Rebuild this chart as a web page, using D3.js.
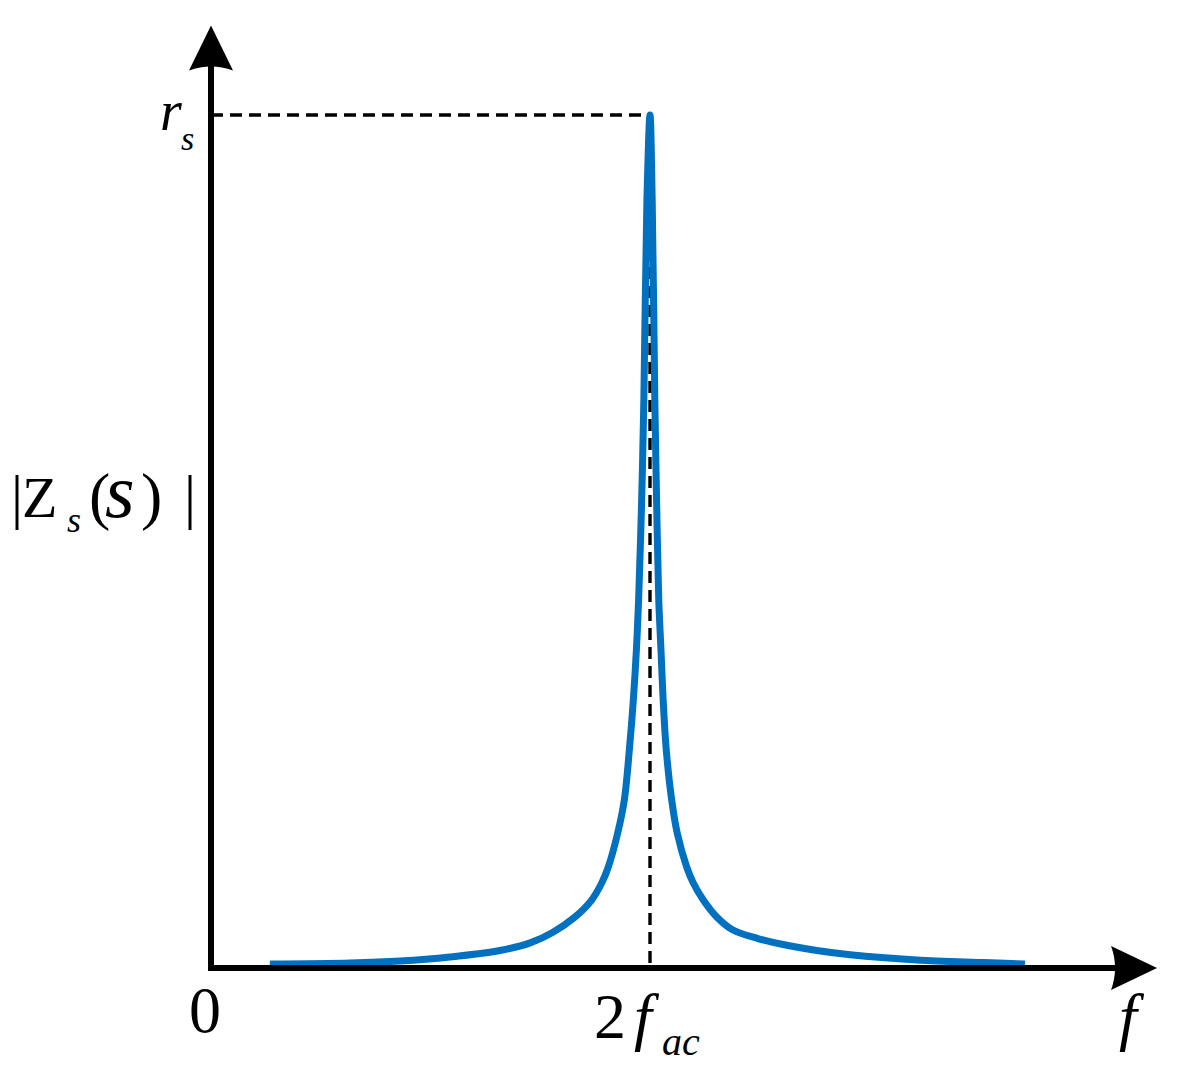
<!DOCTYPE html>
<html>
<head>
<meta charset="utf-8">
<script src="https://cdn.jsdelivr.net/npm/d3@7"></script>
<style>
  @font-face { font-family: "SerifLocal"; font-style: normal; src: local("Liberation Serif"), local("LiberationSerif"), local("Times New Roman"), local("Tinos"); }
  @font-face { font-family: "SerifLocal"; font-style: italic; src: local("Liberation Serif Italic"), local("LiberationSerif-Italic"), local("Times New Roman Italic"), local("Tinos Italic"); }
</style>
</head>
<body style="margin:0">
<svg id="svgx" width="1184" height="1074"></svg>
<script>
// frequency in units of 2f_ac, magnitude in units of r_s
const freqVals = [0.134, 0.317, 0.431, 0.544, 0.658, 0.727, 0.779, 0.829, 0.867, 0.890,
  0.905, 0.9264, 0.9415, 0.953, 0.962, 0.969, 0.974, 0.981, 0.986, 0.993, 1.0,
  1.005, 1.011, 1.015, 1.020, 1.025, 1.030, 1.037, 1.0494, 1.062, 1.0836,
  1.0986, 1.1214, 1.152, 1.189, 1.246, 1.303, 1.380, 1.456, 1.608, 1.759, 1.854];
const magVals = [0.0047, 0.0059, 0.0082, 0.0129, 0.0205, 0.0295, 0.042, 0.0598, 0.0797, 0.0996,
  0.1184, 0.1583, 0.197, 0.256, 0.314, 0.373, 0.431, 0.549, 0.666, 0.900, 1.0,
  0.900, 0.666, 0.549, 0.431, 0.373, 0.314, 0.256, 0.197, 0.1583, 0.1184,
  0.0996, 0.0797, 0.0598, 0.0445, 0.0345, 0.0275, 0.0205, 0.0155, 0.0094, 0.0064, 0.0047];

const peakF = 1.0;     // 2f_ac
const peakMag = 1.0;   // r_s
const xMaxF = 2.155;   // arrow tip of f axis
const yMaxMag = 1.105; // arrow tip of |Z| axis

var fontStack = '"SerifLocal", "Liberation Serif", "Times New Roman", Tinos, Times, "DejaVu Serif", serif';
var svg = d3.select('#svgx');

//**************************************scales
var xScale = d3.scaleLinear().domain([0, peakF]).range([211, 650]);
var yScale = d3.scaleLinear().domain([0, peakMag]).range([968, 115]);

var x0 = xScale(0), y0 = yScale(0);
var xTip = xScale(xMaxF), yTip = yScale(yMaxMag);

//**************************************dashed guides
svg.append('line')
  .attr('x1', x0).attr('y1', yScale(peakMag))
  .attr('x2', xScale(peakF)).attr('y2', yScale(peakMag))
  .attr('stroke', '#000').attr('stroke-width', 3.4)
  .attr('stroke-dasharray', '12 7');

svg.append('line')
  .attr('x1', xScale(peakF)).attr('y1', yScale(peakMag))
  .attr('x2', xScale(peakF)).attr('y2', y0)
  .attr('stroke', '#000').attr('stroke-width', 3.4)
  .attr('stroke-dasharray', '12 7');

//**************************************main curve
var pts = freqVals.map((f, i) => ({ f: f, m: magVals[i] }));

svg.append('path')
  .datum(pts)
  .attr('d', d3.line()
    .x(d => xScale(d.f))
    .y(d => yScale(d.m))
    .curve(d3.curveCatmullRom.alpha(0.5)))
  .attr('fill', 'none')
  .attr('stroke', '#0070C0')
  .attr('stroke-width', 7)
  .attr('stroke-linejoin', 'round');

//**************************************axes with arrow heads
svg.append('line')
  .attr('x1', x0 - 3).attr('y1', y0)
  .attr('x2', xTip - 40).attr('y2', y0)
  .attr('stroke', '#000').attr('stroke-width', 6);

svg.append('line')
  .attr('x1', x0).attr('y1', y0 + 3)
  .attr('x2', x0).attr('y2', yTip + 40)
  .attr('stroke', '#000').attr('stroke-width', 6);

// arrow head with a curved back, like the office "stealth" arrow
svg.append('path')
  .attr('d', `M ${xTip} ${y0} L ${xTip - 46} ${y0 - 22} Q ${xTip - 38} ${y0} ${xTip - 46} ${y0 + 22} Z`)
  .attr('fill', '#000');

svg.append('path')
  .attr('d', `M ${x0} ${yTip} L ${x0 + 22} ${yTip + 45} Q ${x0} ${yTip + 37} ${x0 - 22} ${yTip + 45} Z`)
  .attr('fill', '#000');

//**************************************labels (one text per label, pieces as tspans)
function label(parts) {
  var t = svg.append('text')
    .attr('x', parts[0].x).attr('y', parts[0].y)
    .attr('font-family', fontStack)
    .style('font-family', fontStack);
  parts.forEach(p => {
    t.append('tspan')
      .attr('x', p.x).attr('y', p.y)
      .style('font-size', p.size + 'px')
      .style('font-style', p.it ? 'italic' : 'normal')
      .style('font-family', fontStack)
      .text(p.t);
  });
  return t;
}

// r_s at the peak level
label([
  { t: 'r', x: 160, y: 130, size: 56, it: true },
  { t: 's', x: 181, y: 150, size: 34, it: true }
]);

// |Z_s(s)| on the y axis
label([
  { t: '|', x: 11, y: 517, size: 60 },
  { t: 'Z', x: 22, y: 517, size: 58 },
  { t: 's', x: 67, y: 532, size: 36, it: true },
  { t: '(', x: 89, y: 517, size: 64 },
  { t: 's', x: 105, y: 517, size: 76, it: true },
  { t: ')', x: 141, y: 517, size: 64 },
  { t: '|', x: 184, y: 517, size: 60 }
]);

// 0 at the origin
label([
  { t: '0', x: xScale(0) - 22, y: 1032, size: 64 }
]);

// 2f_ac under the peak
label([
  { t: '2', x: xScale(peakF) - 56, y: 1038, size: 64 },
  { t: 'f', x: xScale(peakF) - 16, y: 1038, size: 64, it: true },
  { t: 'ac', x: xScale(peakF) + 12, y: 1055, size: 40, it: true }
]);

// f at the end of the axis
label([
  { t: 'f', x: xTip - 38, y: 1038, size: 64, it: true }
]);
</script>
</body>
</html>
